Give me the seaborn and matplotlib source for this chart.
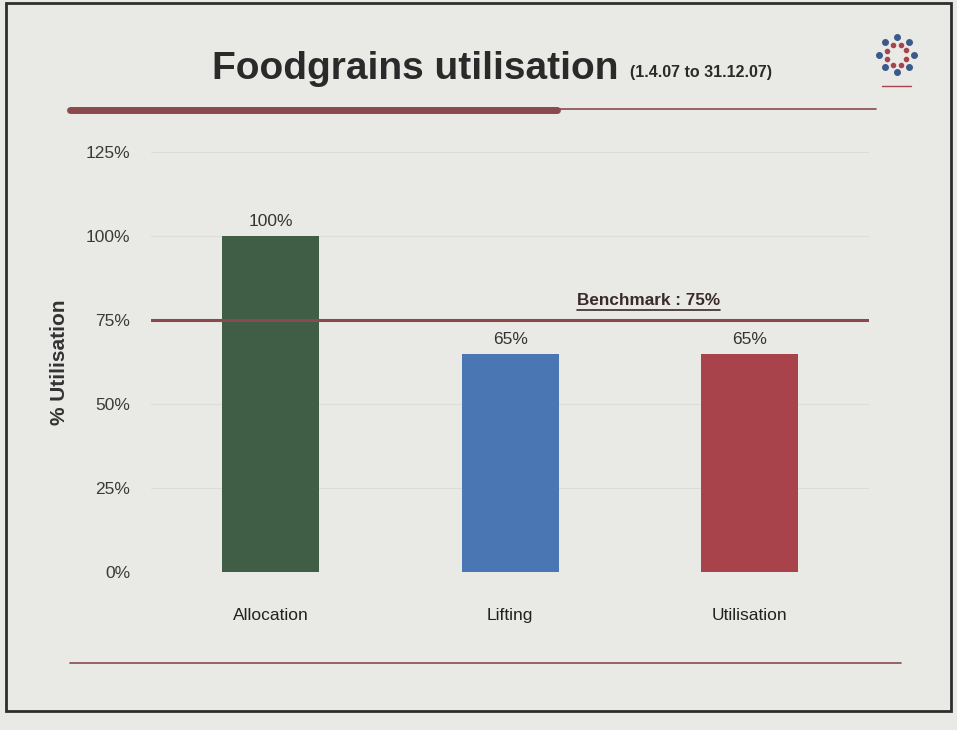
import numpy as np
import pandas as pd
import seaborn as sns
import matplotlib.pyplot as plt
from matplotlib.patches import Rectangle

categories = ['Allocation', 'Lifting', 'Utilisation']
values = [1.00, 0.65, 0.65]
value_labels = ['100%', '65%', '65%']
bar_colors = ['#3f5e45', '#4a77b3', '#a8434b']
benchmark = 0.75
y_ticks = [0, 0.25, 0.5, 0.75, 1.0, 1.25]
y_tick_labels = ['0%', '25%', '50%', '75%', '100%', '125%']

bg = '#e9e9e6'
maroon = '#8a4a4d'
sans = ['Liberation Sans', 'DejaVu Sans']

sns.set_style('white')
plt.rcParams['font.family'] = sans

df = pd.DataFrame({'cat': categories, 'val': values})

fig = plt.figure(figsize=(9.57, 7.3), dpi=100, facecolor=bg)
ax = fig.add_axes([0.158, 0.216, 0.750, 0.576])
ax.set_facecolor(bg)

sns.barplot(data=df, x='cat', y='val', hue='cat', palette=bar_colors,
            width=0.405, legend=False, ax=ax, saturation=1, zorder=3,
            linewidth=0, edgecolor='none')

ax.set_ylim(0, 1.25)
ax.set_xlim(-0.5, 2.5)
ax.set_yticks(y_ticks)
ax.set_yticklabels(y_tick_labels, fontsize=12.5, color='#3a3a3a')
ax.set_xticks(range(len(categories)))
ax.set_xticklabels(categories, fontsize=12.5, color='#222222')
ax.tick_params(axis='x', pad=26, length=0)
ax.tick_params(axis='y', pad=15, length=0)
ax.set_xlabel('')
ax.set_ylabel('% Utilisation', fontsize=15, fontweight='bold', color='#333333',
              labelpad=12)
ax.yaxis.grid(True, color='#dcdcd9', linewidth=0.8, zorder=0)
for s in ax.spines.values():
    s.set_visible(False)

for i, (v, lab) in enumerate(zip(values, value_labels)):
    ax.text(i, v + 0.02, lab, ha='center', va='bottom', fontsize=12.5,
            color='#333333')

# benchmark line and label
ax.axhline(benchmark, color=maroon, linewidth=2.2, zorder=4)
bt = ax.text(1.28, benchmark + 0.035, 'Benchmark : 75%', ha='left', va='bottom',
             fontsize=12.3, fontweight='bold', color='#3a2a2a')
fig.canvas.draw()
bb = bt.get_window_extent().transformed(ax.transData.inverted())
ax.plot([bb.x0, bb.x1], [bb.y0 - 0.004, bb.y0 - 0.004], color='#3a2a2a',
        linewidth=1.2, zorder=5)

# title
fig.text(0.222, 0.905, 'Foodgrains utilisation', fontsize=28, fontweight='bold',
         color='#2a2a2a', ha='left', va='center')
fig.text(0.658, 0.901, '(1.4.07 to 31.12.07)', fontsize=11.5, fontweight='bold',
         color='#2a2a2a', ha='left', va='center')

# decorative rules
fig.add_artist(plt.Line2D([0.073, 0.582], [0.849, 0.849], color=maroon, linewidth=5))
fig.add_artist(plt.Line2D([0.582, 0.915], [0.851, 0.851], color=maroon, linewidth=1.2))
fig.add_artist(plt.Line2D([0.073, 0.942], [0.092, 0.092], color=maroon, linewidth=1.2))

# border
fig.add_artist(Rectangle((0.006, 0.026), 0.988, 0.970, transform=fig.transFigure,
                         fill=False, edgecolor='#2e2e2e', linewidth=2))

# emblem
ang = np.linspace(0, 2 * np.pi, 9)[:-1]
ex, ey = 0.937, 0.925
fig.add_artist(plt.Line2D(ex + 0.018 * np.cos(ang), ey + 0.024 * np.sin(ang),
                          linestyle='none', marker='o', markersize=4,
                          color='#3a5a8a'))
fig.add_artist(plt.Line2D(ex + 0.011 * np.cos(ang + 0.4), ey + 0.015 * np.sin(ang + 0.4),
                          linestyle='none', marker='o', markersize=3,
                          color='#a8434b'))
fig.add_artist(plt.Line2D([0.922, 0.952], [0.882, 0.882], color='#a8434b', linewidth=1))

fig.savefig('out.png', dpi=100, facecolor=bg)
